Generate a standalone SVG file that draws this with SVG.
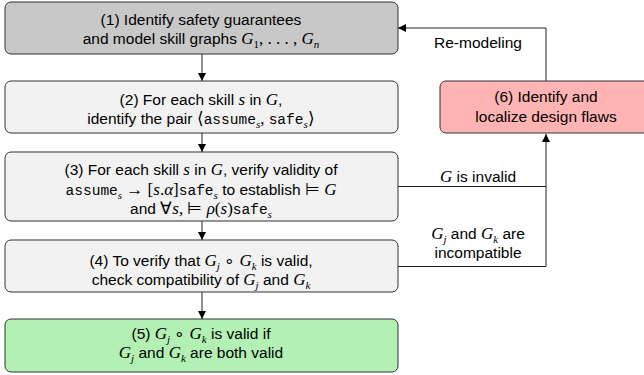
<svg xmlns="http://www.w3.org/2000/svg" width="644" height="375" viewBox="0 0 644 375">
<defs>
<marker id="ah" viewBox="0 0 10 10" refX="10" refY="5" markerWidth="8" markerHeight="8" markerUnits="userSpaceOnUse" orient="auto">
<path d="M0,0 L10,5 L0,10 Z" fill="#000"/>
</marker>
<style>
.box{stroke:#333;stroke-width:1}
.g1{fill:#c8c8c8}
.g2{fill:#f2f2f2}
.gr{fill:#b3f0b3}
.rd{fill:#ffb3b3}
.t{font-family:"Liberation Sans",Arial,sans-serif;font-size:15.5px;fill:#000;text-anchor:middle}
.m{font-family:"Liberation Serif","Times New Roman",serif;font-style:italic;font-size:17px}
.r{font-family:"Liberation Serif","Times New Roman",serif;font-style:normal;font-size:17px}
.tt{font-family:"Liberation Mono","Courier New",monospace;font-size:14.5px}
.s{font-size:11px}
.c{fill:none;stroke:#222;stroke-width:1}
</style>
</defs>
<g id="connectors">
<line class="c" x1="202" y1="54" x2="202" y2="81" marker-end="url(#ah)"/>
<line class="c" x1="202" y1="133" x2="202" y2="152" marker-end="url(#ah)"/>
<line class="c" x1="202" y1="221" x2="202" y2="240" marker-end="url(#ah)"/>
<line class="c" x1="202" y1="292" x2="202" y2="319" marker-end="url(#ah)"/>
<polyline class="c" points="546,81 546,28 398,28" marker-end="url(#ah)"/>
<polyline class="c" points="398,186.5 546,186.5"/>
<polyline class="c" points="398,266.5 546,266.5 546,134" marker-end="url(#ah)"/>
<text class="t" x="478" y="48">Re-modeling</text>
<text class="t" x="478" y="182"><tspan class="m">G</tspan> is invalid</text>
<text class="t" x="478" y="239"><tspan class="m">G</tspan><tspan class="m s" dy="3.5">j</tspan><tspan dy="-3.5"> and </tspan><tspan class="m">G</tspan><tspan class="m s" dy="3.5">k</tspan><tspan dy="-3.5"> are</tspan></text>
<text class="t" x="478" y="258">incompatible</text>
</g>
<g id="n1">
<rect class="box g1" x="5" y="2" width="393" height="52" rx="6"/>
<text class="t" x="201" y="25">(1) Identify safety guarantees</text>
<text class="t" x="201" y="44">and model skill graphs <tspan class="m">G</tspan><tspan class="r s" dy="3.5">1</tspan><tspan class="r" dy="-3.5">, . . . , </tspan><tspan class="m">G</tspan><tspan class="m s" dy="3.5">n</tspan></text>
</g>
<g id="n2">
<rect class="box g2" x="5" y="81" width="393" height="52" rx="6"/>
<text class="t" x="201" y="105">(2) For each skill <tspan class="m">s</tspan> in <tspan class="m">G</tspan>,</text>
<text class="t" x="201" y="124">identify the pair <tspan class="r">⟨</tspan><tspan class="tt">assume</tspan><tspan class="m s" dy="3.5">s</tspan><tspan class="r" dy="-3.5">, </tspan><tspan class="tt">safe</tspan><tspan class="m s" dy="3.5">s</tspan><tspan class="r" dy="-3.5">⟩</tspan></text>
</g>
<g id="n3">
<rect class="box g2" x="5" y="152" width="393" height="69" rx="6"/>
<text class="t" x="201" y="175">(3) For each skill <tspan class="m">s</tspan> in <tspan class="m">G</tspan>, verify validity of</text>
<text class="t" x="201" y="195"><tspan class="tt">assume</tspan><tspan class="m s" dy="3.5">s</tspan><tspan class="r" dy="-3.5"> → [</tspan><tspan class="m">s</tspan><tspan class="r">.</tspan><tspan class="m">α</tspan><tspan class="r">]</tspan><tspan class="tt">safe</tspan><tspan class="m s" dy="3.5">s</tspan><tspan dy="-3.5"> to establish </tspan><tspan class="r">⊨  </tspan><tspan class="m">G</tspan></text>
<text class="t" x="201" y="214">and <tspan class="r">∀</tspan><tspan class="m">s</tspan><tspan class="r">, ⊨ </tspan><tspan class="m">ρ</tspan><tspan class="r">(</tspan><tspan class="m">s</tspan><tspan class="r">)</tspan><tspan class="tt">safe</tspan><tspan class="m s" dy="3.5">s</tspan></text>
</g>
<g id="n4">
<rect class="box g2" x="5" y="240" width="393" height="52" rx="6"/>
<text class="t" x="201" y="266">(4) To verify that <tspan class="m">G</tspan><tspan class="m s" dy="3.5">j</tspan><tspan class="r" dy="-3.5"> ∘ </tspan><tspan class="m">G</tspan><tspan class="m s" dy="3.5">k</tspan><tspan dy="-3.5"> is valid,</tspan></text>
<text class="t" x="201" y="285">check compatibility of <tspan class="m">G</tspan><tspan class="m s" dy="3.5">j</tspan><tspan dy="-3.5"> and </tspan><tspan class="m">G</tspan><tspan class="m s" dy="3.5">k</tspan></text>
</g>
<g id="n5">
<rect class="box gr" x="5" y="319" width="393" height="53" rx="6"/>
<text class="t" x="201" y="339">(5) <tspan class="m">G</tspan><tspan class="m s" dy="3.5">j</tspan><tspan class="r" dy="-3.5"> ∘ </tspan><tspan class="m">G</tspan><tspan class="m s" dy="3.5">k</tspan><tspan dy="-3.5"> is valid if</tspan></text>
<text class="t" x="201" y="358"><tspan class="m">G</tspan><tspan class="m s" dy="3.5">j</tspan><tspan dy="-3.5"> and </tspan><tspan class="m">G</tspan><tspan class="m s" dy="3.5">k</tspan><tspan dy="-3.5"> are both valid</tspan></text>
</g>
<g id="n6">
<rect class="box rd" x="440" y="81" width="212" height="52" rx="6"/>
<text class="t" x="546" y="102">(6) Identify and</text>
<text class="t" x="546" y="122">localize design flaws</text>
</g>
</svg>
